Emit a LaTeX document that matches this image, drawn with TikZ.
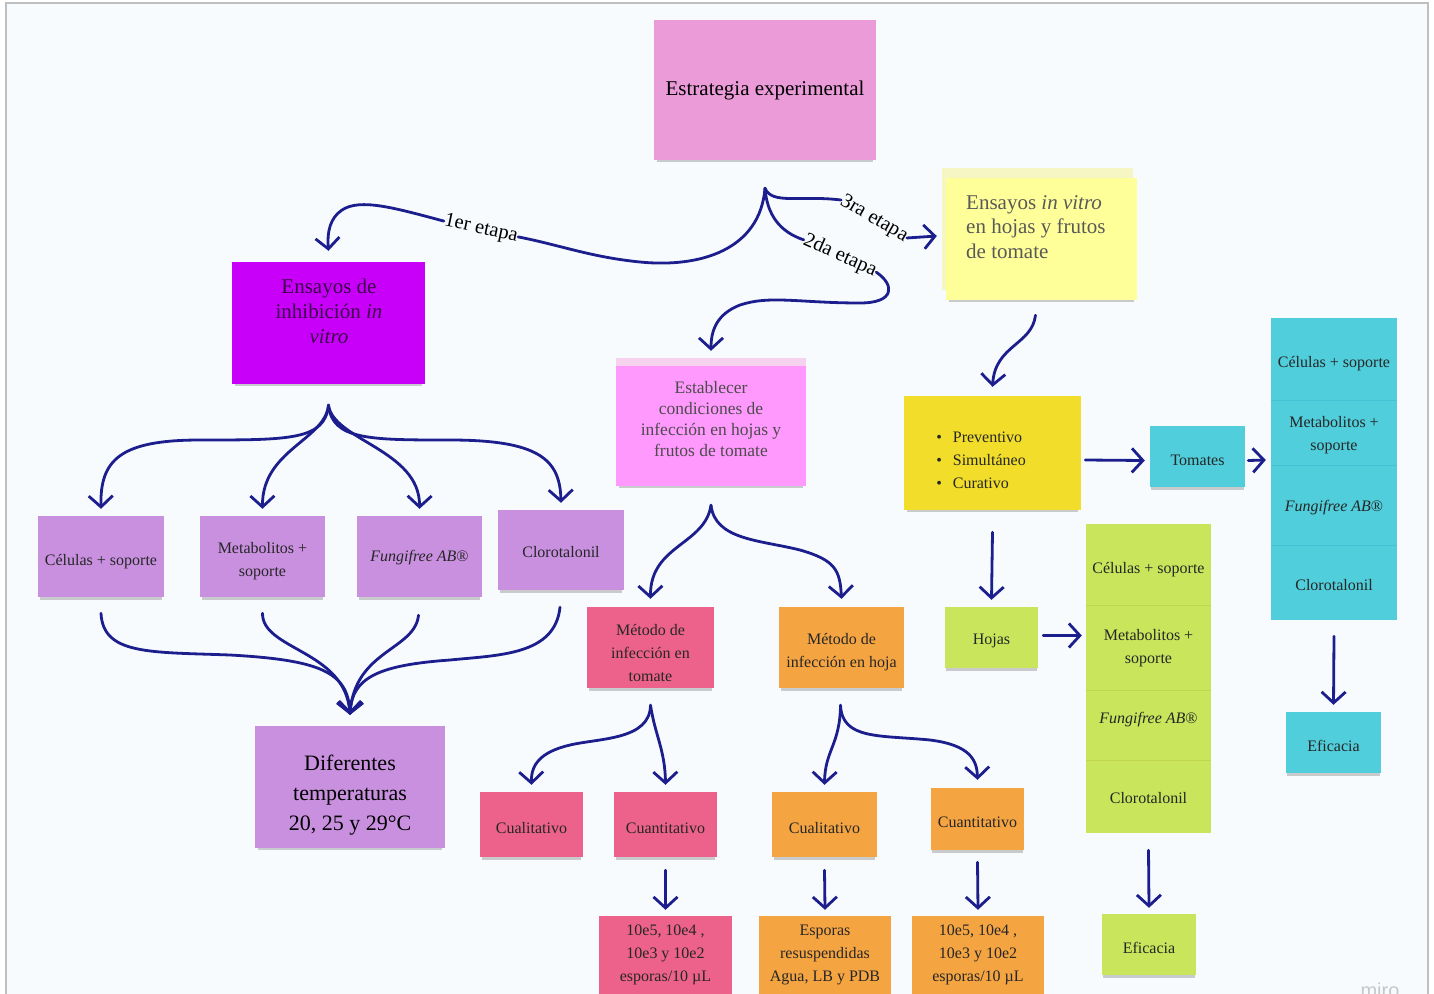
\documentclass[tikz,border=0pt]{standalone}
\usepackage{fontspec}
\setmainfont{Liberation Serif}
\newfontfamily\mirofont{Liberation Sans}
\usetikzlibrary{arrows.meta,shadows,calc}
\definecolor{navy}{HTML}{1B1E8C}
\definecolor{bgc}{HTML}{F8FBFD}
\definecolor{cStrat}{HTML}{EA9BD8}
\definecolor{cMag}{HTML}{C900F9}
\definecolor{cYel}{HTML}{FFFF99}
\definecolor{cYelB}{HTML}{F6F6C4}
\definecolor{cEst}{HTML}{FF99FE}
\definecolor{cEstT}{HTML}{F6D2EE}
\definecolor{cLav}{HTML}{C990E0}
\definecolor{cRose}{HTML}{EC628A}
\definecolor{cOra}{HTML}{F5A442}
\definecolor{cGold}{HTML}{F1DD2A}
\definecolor{cCya}{HTML}{50CEDB}
\definecolor{cLim}{HTML}{C8E55C}
\begin{document}
\begin{tikzpicture}[x=1pt,y=-1pt,
  box/.style={rectangle, inner sep=0pt, align=center, text=black!85,
    font=\fontsize{16}{23}\selectfont,
    drop shadow={shadow xshift=0pt, shadow yshift=-4pt, shadow scale=0.97, opacity=0.28, fill=black!70}},
  txt/.style={inner sep=0pt, align=center, text=black!85, font=\fontsize{16}{23}\selectfont},
  conn/.style={draw=navy, line width=2.8pt, line cap=round},
  arr/.style={conn, -{Straight Barb[length=11pt,width=24pt,line width=2.8pt]}},
  lab/.style={font=\fontsize{20.5}{20.5}\selectfont, inner sep=0.5pt, text=black}]
\clip (0,0) rectangle (1434,993);
\fill[white] (0,0) rectangle (1434,993);
\filldraw[fill=bgc, draw=black!25, line width=1.5pt] (6,3) rectangle (1428,1000);

% ---------- top
\node[box, fill=cStrat, minimum width=222pt, minimum height=140pt, text=black,
  font=\fontsize{21}{21}\selectfont] (strat) at (765,90) {Estrategia experimental};
\coordinate (f0) at ($(strat.south)+(0,28)$);

\node[box, fill=cMag, minimum width=193pt, minimum height=122pt] (inhib) at (328.5,323) {};
\node[txt, text=black!70!cMag, font=\fontsize{21}{25}\selectfont] (inhibT) at (329,311)
  {Ensayos de\\inhibición \textit{in}\\\textit{vitro}};

\fill[cYelB] (942,168) rectangle (1133,290);
\node[box, fill=cYel, minimum width=191pt, minimum height=122pt] (ivy) at (1041.5,239) {};
\node[txt, align=left, anchor=north west, text=black!65, font=\fontsize{21}{24.5}\selectfont] (ivyT) at (966,195)
  {Ensayos \textit{in vitro}\\en hojas y frutos\\de tomate};

\node[box, fill=cEst, minimum width=190pt, minimum height=124pt] (est) at (711,424) {};
\node[txt, text=black!70, font=\fontsize{17.5}{21}\selectfont] (estT) at (711,419)
  {Establecer\\condiciones de\\infección en hojas y\\frutos de tomate};
\fill[cEstT] (616,358) rectangle (806,366);

% labels
\node[lab, rotate=-12] (lab1) at (481,229) {1er etapa};
\node[lab, rotate=-30] (lab3) at (874,219) {3ra etapa};
\node[lab, rotate=-24] (lab2) at (840,256) {2da etapa};

\draw[conn] (f0) .. controls (760,250) and (700,268) .. (640,262) .. controls (590,257) and (560,245) .. (lab1.east);
\draw[arr] (lab1.west) .. controls (395,208) and (360,198) .. (342,210) .. controls (330,218) and (327,232) .. ($(inhib.north)+(0,-11)$);
\draw[conn] (f0) .. controls (772,205) and (800,195) .. (lab3.west);
\draw[arr] (lab3.east) -- ($(ivy.west)+(-9,-3)$);
\draw[conn] (f0) .. controls (767,215) and (780,232) .. (lab2.west);
\draw[arr] (lab2.east) .. controls (895,285) and (895,303) .. (860,303) .. controls (800,303) and (770,295) .. (740,305) .. controls (717,314) and (711,330) .. ($(est.north)+(0,-11)$);

% ---------- left column
\node[box, fill=cLav, minimum width=126pt, minimum height=81pt] (cel) at (101,556.5) {};
\node[txt] (celT) at (101,562) {Células + soporte};
\node[box, fill=cLav, minimum width=125pt, minimum height=81pt] (met) at (262.5,556.5) {};
\node[txt] (metT) at (262.5,561) {Metabolitos +\\soporte};
\node[box, fill=cLav, minimum width=125pt, minimum height=81pt] (fun) at (419.5,556.5) {};
\node[txt] (funT) at (419.5,558) {\textit{Fungifree AB}®};
\node[box, fill=cLav, minimum width=126pt, minimum height=80pt] (clo) at (561,550) {};
\node[txt] (cloT) at (561,552) {Clorotalonil};
\node[box, fill=cLav, minimum width=190pt, minimum height=122pt] (dif) at (350,787) {};
\node[txt, text=black, font=\fontsize{22}{30}\selectfont] (difT) at (350,795) {Diferentes\\temperaturas\\20, 25 y 29°C};

\coordinate (f1) at ($(inhib.south)+(0,21)$);
\draw[arr] (f1) .. controls (325,440) and (290,440) .. (200,440) .. controls (120,440) and (100,460) .. ($(cel.north)+(0,-7)$);
\draw[arr] (f1) .. controls (325,440) and (262,450) .. ($(met.north)+(0,-7)$);
\draw[arr] (f1) .. controls (333,440) and (420,450) .. ($(fun.north)+(0,-7)$);
\draw[arr] (f1) .. controls (332,440) and (370,440) .. (450,440) .. controls (540,440) and (560,460) .. ($(clo.north)+(0,-7)$);

\coordinate (m1) at ($(dif.north)+(0,-11)$);
\draw[arr] ($(cel.south)+(0,16)$) .. controls (103,655) and (150,652) .. (230,655) .. controls (320,660) and (348,672) .. (m1);
\draw[arr] ($(met.south)+(0,16)$) .. controls (262,650) and (345,650) .. (m1);
\draw[arr] ($(fun.south)+(-1,18)$) .. controls (415,650) and (355,650) .. (m1);
\draw[arr] ($(clo.south)+(-1,17)$) .. controls (555,655) and (500,655) .. (450,660) .. controls (380,665) and (352,677) .. (m1);

% ---------- middle column
\node[box, fill=cRose, minimum width=127pt, minimum height=81pt] (mtom) at (650.5,647.5) {};
\node[txt] (mtomT) at (650.5,653) {Método de\\infección en\\tomate};
\node[box, fill=cOra, minimum width=125pt, minimum height=81pt] (mhoj) at (841.5,647.5) {};
\node[txt] (mhojT) at (841.5,652.5) {Método de\\infección en hoja};

\coordinate (f2) at ($(est.south)+(0,19)$);
\draw[arr] (f2) .. controls (705,545) and (650,545) .. ($(mtom.north)+(0,-8)$);
\draw[arr] (f2) .. controls (715,540) and (760,540) .. (800,550) .. controls (835,560) and (840,570) .. ($(mhoj.north)+(0,-8)$);

\node[box, fill=cRose, minimum width=103pt, minimum height=65pt] (cual1) at (531.5,824.5) {};
\node[txt] (cual1T) at (531.5,828) {Cualitativo};
\node[box, fill=cRose, minimum width=103pt, minimum height=65pt] (cuan1) at (665.5,824.5) {};
\node[txt] (cuan1T) at (665.5,828) {Cuantitativo};
\node[box, fill=cOra, minimum width=105pt, minimum height=65pt] (cual2) at (824.5,824.5) {};
\node[txt] (cual2T) at (824.5,828) {Cualitativo};
\node[box, fill=cOra, minimum width=93pt, minimum height=62pt] (cuan2) at (977.5,819) {};
\node[txt] (cuan2T) at (977.5,822) {Cuantitativo};

\coordinate (f3) at ($(mtom.south)+(0,17)$);
\draw[arr] (f3) .. controls (650,740) and (600,738) .. (570,745) .. controls (540,752) and (531,765) .. ($(cual1.north)+(0,-7)$);
\draw[arr] (f3) .. controls (655,735) and (665,750) .. ($(cuan1.north)+(0,-7)$);
\coordinate (f4) at ($(mhoj.south)+(-1,17)$);
\draw[arr] (f4) .. controls (840,745) and (825,750) .. ($(cual2.north)+(0,-7)$);
\draw[arr] (f4) .. controls (842,740) and (880,735) .. (930,740) .. controls (970,745) and (977,760) .. ($(cuan2.north)+(0,-8)$);

\node[box, fill=cRose, minimum width=133pt, minimum height=84pt] (n1) at (665.5,958) {};
\node[txt] (n1T) at (665.5,955) {10e5, 10e4 ,\\10e3 y 10e2\\esporas/10 µL};
\node[box, fill=cOra, minimum width=132pt, minimum height=84pt] (n2) at (825,958) {};
\node[txt] (n2T) at (825,955) {Esporas\\resuspendidas\\Agua, LB y PDB};
\node[box, fill=cOra, minimum width=132pt, minimum height=84pt] (n3) at (978,958) {};
\node[txt] (n3T) at (978,955) {10e5, 10e4 ,\\10e3 y 10e2\\esporas/10 µL};

\draw[arr] ($(cuan1.south)+(0,13)$) -- ($(n1.north)+(0,-6)$);
\draw[arr] ($(cual2.south)+(0,13)$) -- ($(n2.north)+(0,-6)$);
\draw[arr] ($(cuan2.south)+(0,12)$) -- ($(n3.north)+(0,-6)$);

% ---------- right side
\node[box, fill=cGold, minimum width=177pt, minimum height=114pt] (prev) at (992.5,453) {};
\node[txt, align=left] (prevT) at (981,460)
  {\textbullet\hspace{11pt}Preventivo\\\textbullet\hspace{11pt}Simultáneo\\\textbullet\hspace{11pt}Curativo};
\draw[arr] ($(ivy.south)+(-6,15)$) .. controls (1032,345) and (995,345) .. ($(prev.north)+(0,-9)$);

\node[box, fill=cCya, minimum width=95pt, minimum height=61pt] (tom) at (1197.5,456.5) {};
\node[txt] (tomT) at (1197.5,460) {Tomates};
\node[box, fill=cCya, minimum width=126pt, minimum height=302pt] (ctall) at (1334,469) {};
\draw[cyan!60!teal, opacity=0.25, line width=1pt] (1271,400) -- (1397,400) (1271,465) -- (1397,465) (1271,545) -- (1397,545);
\node[txt] (c1) at (1334,364) {Células + soporte};
\node[txt] (c2) at (1334,435) {Metabolitos +\\soporte};
\node[txt] (c3) at (1334,508) {\textit{Fungifree AB}®};
\node[txt] (c4) at (1334,585) {Clorotalonil};
\node[box, fill=cCya, minimum width=95pt, minimum height=61pt] (efc) at (1333.5,742.5) {};
\node[txt] (efcT) at (1333.5,746) {Eficacia};

\draw[arr] ($(prev.east)+(4,7)$) -- ($(tom.west)+(-5,4)$);
\draw[arr] ($(tom.east)+(3,4)$) -- ($(ctall.west)+(-5,-9)$);
\draw[arr] ($(ctall.south)+(0,16)$) -- ($(efc.north)+(0,-7)$);

\node[box, fill=cLim, minimum width=93pt, minimum height=61pt] (hoj) at (991.5,637.5) {};
\node[txt] (hojT) at (991.5,641) {Hojas};
\node[box, fill=cLim, minimum width=125pt, minimum height=309pt] (ltall) at (1148.5,678.5) {};
\draw[olive, opacity=0.15, line width=1pt] (1086,605) -- (1211,605) (1086,690) -- (1211,690) (1086,760) -- (1211,760);
\node[txt] (l1) at (1148.5,570) {Células + soporte};
\node[txt] (l2) at (1148.5,648) {Metabolitos +\\soporte};
\node[txt] (l3) at (1148.5,720) {\textit{Fungifree AB}®};
\node[txt] (l4) at (1148.5,798) {Clorotalonil};
\node[box, fill=cLim, minimum width=94pt, minimum height=61pt] (efl) at (1149,944.5) {};
\node[txt] (eflT) at (1149,948) {Eficacia};

\draw[arr] ($(prev.south)+(0,22)$) -- ($(hoj.north)+(0,-7)$);
\draw[arr] ($(hoj.east)+(5,-2)$) -- ($(ltall.west)+(-4,-43)$);
\draw[arr] ($(ltall.south)+(0,17)$) -- ($(efl.north)+(0,-6)$);

\node[text=black!22, font=\mirofont\fontsize{20}{20}\selectfont, inner sep=0pt] (miro) at (1380,990) {miro};
\end{tikzpicture}
\end{document}
